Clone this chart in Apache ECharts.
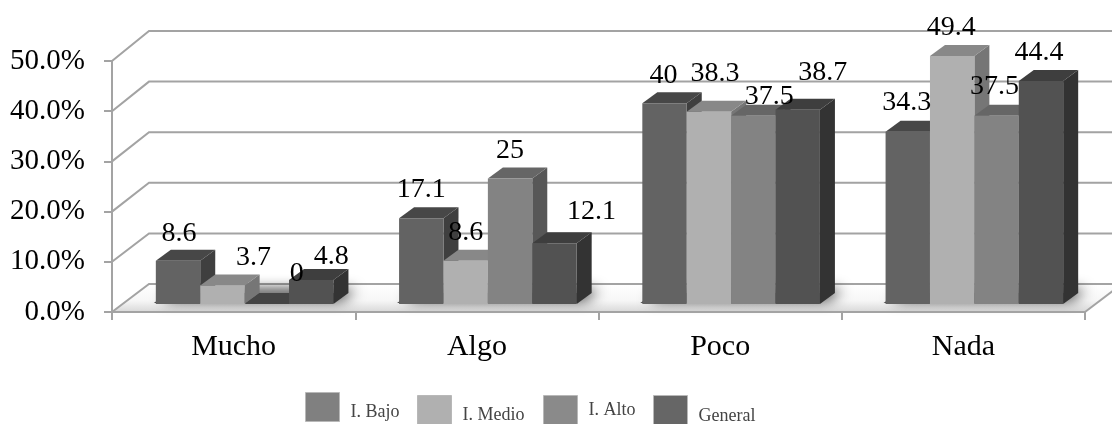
<!DOCTYPE html>
<html>
<head>
<meta charset="utf-8">
<style>
html,body{margin:0;padding:0;background:#fff}
#c{width:1112px;height:424px;filter:blur(0.45px)}
</style>
<script src="https://cdn.jsdelivr.net/npm/echarts@6/dist/echarts.min.js"></script>
</head>
<body>
<div id="c"></div>
<script>
var categories = ['Mucho', 'Algo', 'Poco', 'Nada'];
var seriesNames = ['I. Bajo', 'I. Medio', 'I. Alto', 'General'];
var bajo = [8.6, 17.1, 40, 34.3];
var medio = [3.7, 8.6, 38.3, 49.4];
var alto = [0, 25, 37.5, 37.5];
var general = [4.8, 12.1, 38.7, 44.4];
var yTicks = [0, 10, 20, 30, 40, 50];

// Styling and 3D projection, kept apart from the data
var allValues = [bajo, medio, alto, general];
var front = ['#636363', '#b0b0b0', '#838383', '#525252'];
var top3d = ['#474747', '#888888', '#666666', '#3e3e3e'];
var side = ['#3f3f3f', '#767676', '#575757', '#333333'];
var legendColors = ['#808080', '#b0b0b0', '#8a8a8a', '#666666'];
var legendPos = [[305, 392, 10], [417, 395, 10], [543, 395, 1], [653, 395, 12]];
var labelNudge = [
  [[1, -27.5], [0, -29], [-1, -28], [-1, -29]],
  [[31, -28], [0, -28.5], [6, -38], [-1, -28]],
  [[30, -30], [0, -27.5], [16, -19], [-2, -29]],
  [[20, -23], [37, -32], [25, -37], [-2, -28]]
];
var serif = '"Liberation Serif","Times New Roman",serif';
var GRID = '#a3a3a3';
var WALL_DX = 37, BASE_DX = 11, BASE_DY = -8, DEPTH_X = 15, DEPTH_Y = -11;
var BAR_SHARE = 44.4 / 243.25;

function poly(points, fill, extra) {
  var style = {fill: fill};
  for (var k in (extra || {})) style[k] = extra[k];
  return {type: 'polygon', shape: {points: points}, style: style};
}
function wallDy(v) { return -28 - 2 * v / 50; }

function renderFloor(params, api) {
  var a = api.coord([0, 0]);
  var w = api.size([1, 0])[0];
  var left = a[0] - w / 2, right = left + 4 * w, y = a[1];
  return poly([[left, y], [left + WALL_DX, y - 28], [right + WALL_DX, y - 28], [right, y]], {
    type: 'linear', x: 0, y: 0, x2: 0, y2: 1,
    colorStops: [{offset: 0, color: '#ffffff'}, {offset: 0.6, color: '#f6f6f6'}, {offset: 1, color: '#d8d8d8'}]
  });
}

function renderWall(params, api) {
  var v = api.value(0);
  var a = api.coord([0, v]);
  var w = api.size([1, 0])[0];
  var left = a[0] - w / 2, right = left + 4 * w, y = a[1], dy = wallDy(v);
  var ls = {stroke: GRID, lineWidth: 2, fill: 'none'};
  var kids = [
    {type: 'polyline', shape: {points: [[left, y], [left + WALL_DX, y + dy], [right + WALL_DX, y + dy]]}, style: ls}
  ];
  if (v === 0) kids.push({type: 'line', shape: {x1: right, y1: y, x2: right + WALL_DX, y2: y + dy}, style: ls});
  return {type: 'group', children: kids};
}

function renderShadow(params, api) {
  var a = api.coord([api.value(0), 0]);
  var w = api.size([1, 0])[0];
  var half = 2 * w * BAR_SHARE;
  var x0 = a[0] + BASE_DX - half, x1 = a[0] + BASE_DX + half, y = a[1] + BASE_DY;
  return poly([[x0 - 2, y - 1], [x1, y - 1], [x1 + 14, y - 11], [x0 + 12, y - 11]], '#444', {
    shadowBlur: 14, shadowColor: 'rgba(20,20,20,1)', shadowOffsetX: 8, shadowOffsetY: -3
  });
}

function barBox(api, s) {
  var cat = api.value(0), val = api.value(1);
  var base = api.coord([cat, 0]), tip = api.coord([cat, val]);
  var bw = api.size([1, 0])[0] * BAR_SHARE;
  var cx = base[0] + BASE_DX + (s - 1.5) * bw;
  return {cx: cx, x0: cx - bw / 2, x1: cx + bw / 2, yb: base[1] + BASE_DY, yt: tip[1] + BASE_DY, val: val};
}

function renderBar(s) {
  return function (params, api) {
    var b = barBox(api, s);
    var dx = DEPTH_X, dy = DEPTH_Y;
    return {type: 'group', children: [
      poly([[b.x1, b.yb], [b.x1 + dx, b.yb + dy], [b.x1 + dx, b.yt + dy], [b.x1, b.yt]], side[s]),
      poly([[b.x0, b.yt], [b.x0 + dx, b.yt + dy], [b.x1 + dx, b.yt + dy], [b.x1, b.yt]], b.val === 0 ? '#444444' : top3d[s]),
      poly([[b.x0, b.yb], [b.x0, b.yt], [b.x1, b.yt], [b.x1, b.yb]], front[s])
    ]};
  };
}

function renderLabel(s) {
  return function (params, api) {
    var b = barBox(api, s);
    var n = labelNudge[s][api.value(0)];
    return {type: 'text', style: {
      x: b.cx + n[0], y: b.yt + n[1], text: String(b.val),
      fontFamily: serif, fontSize: 28, fill: '#000',
      align: 'center', verticalAlign: 'middle'
    }};
  };
}

var series = [
  {type: 'custom', name: '_floor', z: 0, silent: true, data: [[0]], renderItem: renderFloor},
  {type: 'custom', name: '_wall', z: 0, silent: true, data: yTicks.map(function (v) { return [v]; }), renderItem: renderWall},
  {type: 'custom', name: '_shadow', z: 0, silent: true, data: categories.map(function (c, i) { return [i]; }), renderItem: renderShadow}
];
allValues.forEach(function (vals, s) {
  series.push({
    type: 'custom', name: seriesNames[s], z: 2, itemStyle: {color: front[s]},
    encode: {x: 0, y: 1},
    data: vals.map(function (v, i) { return [i, v]; }),
    renderItem: renderBar(s)
  });
});
allValues.forEach(function (vals, s) {
  series.push({
    type: 'custom', name: '_labels' + s, z: 5, silent: true,
    encode: {x: 0, y: 1},
    data: vals.map(function (v, i) { return [i, v]; }),
    renderItem: renderLabel(s)
  });
});

var chart = echarts.init(document.getElementById('c'), null, {renderer: 'canvas'});
chart.setOption({
  animation: false,
  backgroundColor: '#fff',
  grid: {left: 112, right: 27, top: 61, bottom: 112},
  xAxis: {
    type: 'category', data: categories, z: 1,
    axisLine: {lineStyle: {color: GRID, width: 2}},
    axisTick: {show: true, length: 8, lineStyle: {color: GRID, width: 2}},
    axisLabel: {fontFamily: serif, fontSize: 30, color: '#000', margin: 20},
    splitLine: {show: false}
  },
  yAxis: {
    type: 'value', min: 0, max: 50, interval: 10, z: 1,
    axisLine: {show: true, lineStyle: {color: GRID, width: 2}},
    axisTick: {show: true, length: 8, lineStyle: {color: GRID, width: 2}},
    axisLabel: {fontFamily: serif, fontSize: 29, color: '#000', margin: 27,
      formatter: function (v) { return v.toFixed(1) + '%'; }},
    splitLine: {show: false}
  },
  legend: seriesNames.map(function (n, i) {
    return {
      left: legendPos[i][0], top: legendPos[i][1], padding: 0, itemWidth: 34, itemHeight: 29, itemGap: 0,
      selectedMode: false,
      data: [{name: n, icon: 'rect', itemStyle: {color: legendColors[i], borderColor: '#b8b8b8', borderWidth: 1}}],
      formatter: '{t|{name}}',
      textStyle: {
        fontFamily: serif, fontSize: 18, color: '#444',
        padding: [0, 0, 0, 6],
        rich: {t: {fontFamily: serif, fontSize: 18, color: '#444', padding: [legendPos[i][2], 0, 0, 0]}}
      }
    };
  }),
  series: series
});
</script>
</body>
</html>
